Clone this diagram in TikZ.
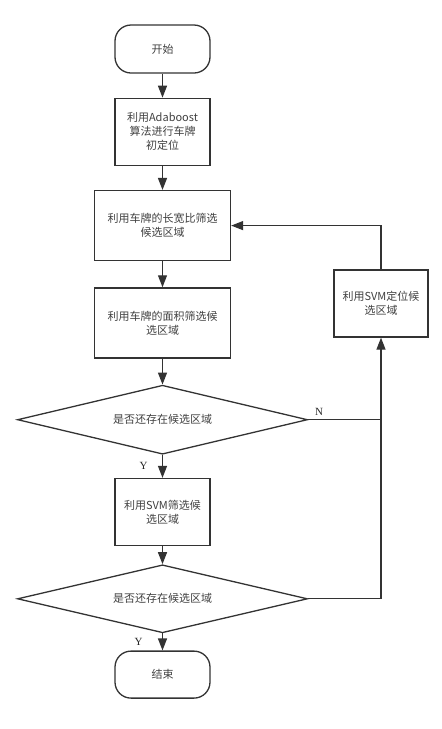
\documentclass[tikz,border=0pt]{standalone}
\usepackage{fontspec}
\setmainfont{Noto Sans CJK SC}
\newfontfamily\ynfont{Liberation Serif}
\usetikzlibrary{arrows.meta,positioning,shapes.geometric}
\colorlet{linec}{black!80}

\begin{document}
\begin{tikzpicture}[x=1pt, y=1pt, font=\fontsize{11}{14}\selectfont, text=black!75, line width=1.3pt,
  box/.style={draw=linec, align=center, inner sep=2pt, minimum width=95pt, minimum height=67pt},
  term/.style={draw=linec, rounded corners=16pt, minimum width=95pt, minimum height=48pt},
  check/.style={draw=linec, diamond, aspect=4.2, inner sep=0pt, minimum width=290pt, minimum height=69pt},
  link/.style={draw=linec},
  flow/.style={draw=linec, -{Triangle[length=12pt,width=9pt]}},
  yn/.style={font=\ynfont\fontsize{11}{12}\selectfont, text=black!85}]
  \useasboundingbox (0,0) rectangle (442,-729);
  \node[term] (start) at (162.5,-49) {开始};
  \node[box, below=24pt of start] (adaboost) {利用Adaboost\\算法进行车牌\\初定位};
  \node[box, below=24pt of adaboost, minimum width=136pt, minimum height=70pt] (ratio) {利用车牌的长宽比筛选\\候选区域};
  \node[box, below=26pt of ratio, minimum width=136pt, minimum height=70pt] (area) {利用车牌的面积筛选候\\选区域};
  \node[check, below=26pt of area] (left1) {是否还存在候选区域};
  \node[box, below=23pt of left1] (svmfilter) {利用SVM筛选候\\选区域};
  \node[check, below=18pt of svmfilter, minimum height=68pt] (left2) {是否还存在候选区域};
  \node[term, below=17pt of left2, minimum height=47pt] (stop) {结束};
  \node[box, minimum width=94pt] (svmlocate) at (381,-303.5) {利用SVM定位候\\选区域};
  \draw[flow] (start) -- (adaboost);
  \draw[flow] (adaboost) -- (ratio);
  \draw[flow] (ratio) -- (area);
  \draw[flow] (area) -- (left1);
  \draw[flow] (left1) -- node[yn, left=11pt]{Y} (svmfilter);
  \draw[flow] (svmfilter) -- (left2);
  \draw[flow] (left2) -- node[yn, left=16pt]{Y} (stop);
  \draw[link] (left1.east) -- node[yn, above, pos=0.15]{N} (left1.east -| svmlocate);
  \draw[flow] (left2.east) -- (left2.east -| svmlocate) -- (svmlocate.south);
  \draw[flow] (svmlocate.north) |- (ratio.east);
\end{tikzpicture}
\end{document}
